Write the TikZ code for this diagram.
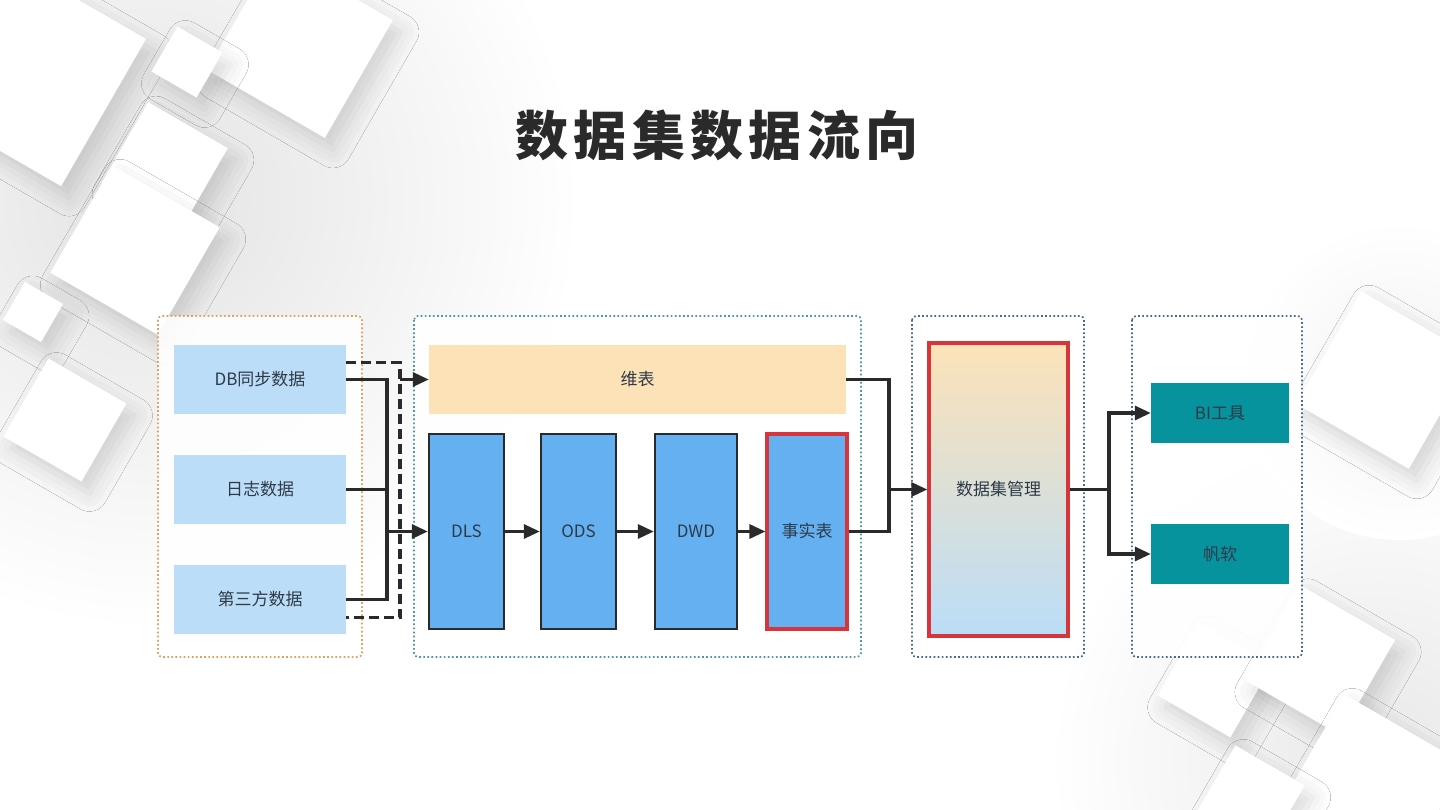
\documentclass[tikz,border=0pt]{standalone}
\usepackage{fontspec}
\setmainfont{Noto Sans CJK SC}
\usetikzlibrary{shadows.blur,arrows.meta,calc}
\definecolor{srcblue}{HTML}{BBDDF7}
\definecolor{peach}{HTML}{FDE2B8}
\definecolor{midblue}{HTML}{64B0F0}
\definecolor{redb}{HTML}{D8343C}
\definecolor{tealf}{HTML}{07939E}
\definecolor{lineblk}{HTML}{2A2A2A}
\definecolor{txt}{HTML}{2E3A48}
\definecolor{orgdot}{HTML}{E0A060}
\definecolor{tealdot}{HTML}{4F97A3}
\definecolor{slatedot}{HTML}{4A6A88}
\newcommand\bgsq[3]{%
  \begin{scope}[shift={(#1,#2)},rotate=-30]
    \fill[white,blur shadow={shadow xshift=8pt,shadow yshift=-12pt,shadow blur radius=18pt,shadow opacity=14}] (-#3,-#3) rectangle (#3,#3);
  \end{scope}}
\tikzset{
  box/.style={inner sep=0pt,font=\fontsize{17}{20}\selectfont,text=txt},
  src/.style={box,fill=srcblue,minimum width=172pt,minimum height=69pt},
  layer/.style={box,fill=midblue,draw=lineblk,line width=2.4pt,minimum height=195pt},
  container/.style={line width=1.7pt,dash pattern=on 1.7pt off 2.4pt,rounded corners=4pt,fill=white,fill opacity=0.9},
  link/.style={draw=lineblk,line width=3.2pt},
  arr/.style={link,-{Triangle[length=16pt,width=14pt]}},
  dlink/.style={link,dash pattern=on 10pt off 5pt},
  tool/.style={box,fill=tealf,minimum width=138pt,minimum height=60pt}
}
\begin{document}
\begin{tikzpicture}[x=1pt,y=-1pt]
\useasboundingbox (0,0) rectangle (1440,810);
\fill[white] (0,0) rectangle (1440,810);
% background
\shade[inner color=gray!22,outer color=white] (150,200) circle (430pt);
\shade[inner color=gray!18,outer color=white] (1380,760) circle (330pt);
\shade[inner color=gray!10,outer color=white] (1400,380) circle (160pt);
\bgsq{30}{70}{85}
\bgsq{300}{45}{68}
\bgsq{187}{62}{26}
\bgsq{165}{165}{46}
\bgsq{135}{250}{62}
\bgsq{33}{312}{22}
\bgsq{65}{420}{45}
\bgsq{1385}{380}{65}
\bgsq{1215}{680}{42}
\bgsq{1320}{660}{55}
\bgsq{1370}{790}{70}
\bgsq{1250}{800}{40}
% title
\node[font=\fontsize{53}{60}\selectfont\bfseries\addfontfeature{LetterSpace=10},text=lineblk] (title) at (717,135) {数据集数据流向};
% containers
\draw[container,draw=orgdot] (158,316) rectangle (362,657);
\draw[container,draw=tealdot] (414,316) rectangle (861,657);
\draw[container,draw=slatedot] (912,316) rectangle (1084,657);
\draw[container,draw=slatedot] (1132,316) rectangle (1302,657);
% sources
\node[src] (db) at (260,379.5) {DB同步数据};
\node[src] (log) at (260,489.5) {日志数据};
\node[src] (third) at (260,599.5) {第三方数据};
% warehouse
\node[box,fill=peach,minimum width=417pt,minimum height=69pt] (dim) at (637.5,379.5) {维表};
\node[layer,minimum width=75pt] (dls) at (466.5,531.5) {DLS};
\node[layer,minimum width=75pt] (ods) at (578.5,531.5) {ODS};
\node[layer,minimum width=82pt] (dwd) at (696,531.5) {DWD};
\node[layer,draw=redb,line width=3.2pt,minimum width=80pt] (fact) at (807,531.5) {事实表};
% dataset management
\node[box,top color=peach,bottom color=srcblue,draw=redb,line width=3.4pt,minimum width=139pt,minimum height=293pt] (dsm) at (998.5,489.5) {数据集管理};
% tools
\node[tool] (bi) at (1220,413) {BI工具};
\node[tool] (fr) at (1220,554) {帆软};
% connectors
\coordinate (j1) at (387,531.5);
\coordinate (jd) at (400,379.5);
\coordinate (j2) at (889,489.5);
\coordinate (j3) at (1109,489.5);
\draw[link] (db.east) -| (j1);
\draw[link] (log.east) -- (log.east -| j1);
\draw[link] (third.east) -| (j1);
\draw[arr] (j1) -- (dls.west);
\draw[dlink] ([yshift=17pt]db.east) -| ([yshift=-18pt]third.east -| jd) -- ([yshift=-18pt]third.east);
\draw[arr] (jd) -- (dim.west);
\draw[arr] (dls) -- (ods);
\draw[arr] (ods) -- (dwd);
\draw[arr] (dwd) -- (fact);
\draw[link] (dim.east) -| (j2);
\draw[link] (fact.east) -| (j2);
\draw[arr] (j2) -- (dsm.west);
\draw[link] (dsm.east) -- (j3);
\draw[arr] (j3) |- (bi.west);
\draw[arr] (j3) |- (fr.west);
\end{tikzpicture}
\end{document}
